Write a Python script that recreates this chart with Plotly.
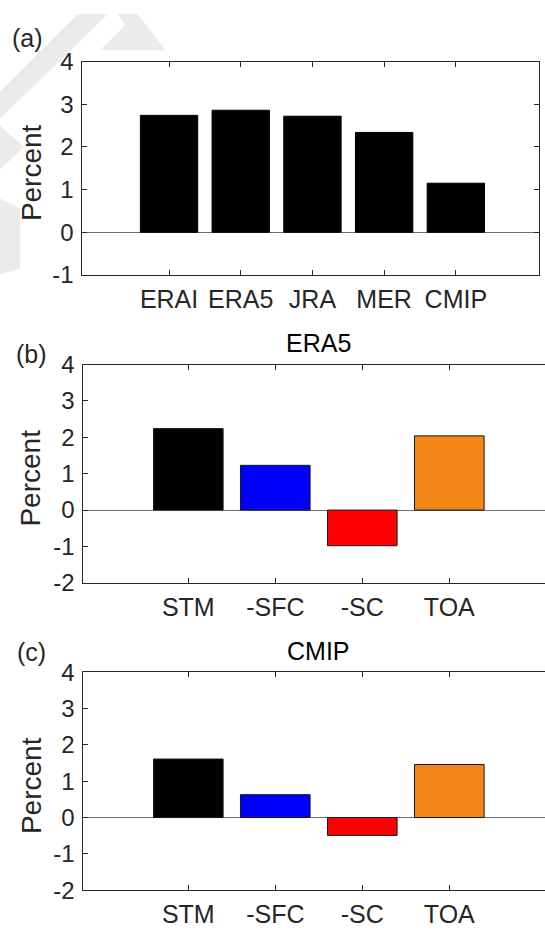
import plotly.graph_objects as go

W, H = 545, 936

# ---- data ----
cats_a = ["ERAI", "ERA5", "JRA", "MER", "CMIP"]
vals_a = [2.74, 2.86, 2.72, 2.34, 1.15]

cats_bc = ["STM", "-SFC", "-SC", "TOA"]
vals_b = [2.24, 1.23, -0.98, 2.04]   # ERA5
vals_c = [1.61, 0.63, -0.49, 1.46]   # CMIP
colors_bc = ["#000000", "#0000FF", "#FF0000", "#F28717"]

titles = ["", "ERA5", "CMIP"]
panel_labels = ["(a)", "(b)", "(c)"]
yticks_a = [-1, 0, 1, 2, 3, 4]
yticks_bc = [-2, -1, 0, 1, 2, 3, 4]

FONT = "Liberation Sans, Arial, sans-serif"
TXT = "#262626"


def px(x):
    return x / W


def py(y):
    return 1 - y / H


fig = go.Figure()

fig.add_trace(go.Bar(x=list(range(len(cats_a))), y=vals_a, width=0.8,
                     marker=dict(color="#000000", line=dict(color="#000000", width=1)),
                     xaxis="x", yaxis="y", showlegend=False))
fig.add_trace(go.Bar(x=list(range(len(cats_bc))), y=vals_b, width=0.8,
                     marker=dict(color=colors_bc, line=dict(color="#1a1a1a", width=1)),
                     xaxis="x2", yaxis="y2", showlegend=False))
fig.add_trace(go.Bar(x=list(range(len(cats_bc))), y=vals_c, width=0.8,
                     marker=dict(color=colors_bc, line=dict(color="#1a1a1a", width=1)),
                     xaxis="x3", yaxis="y3", showlegend=False))

# panel pixel boxes: (left, right, top, bottom)
boxes = [(82.3, 539.0, 49.0, 268.7), (83.3, 545.0, 361.0, 585.7), (83.3, 545.0, 677.7, 902.3)]
xranges = [[-1.21, 5.16], [-1.207, 4.1], [-1.207, 4.1]]
yranges = [[-1, 4], [-2, 4], [-2, 4]]
tickvals_x = [list(range(len(cats_a))), list(range(len(cats_bc))), list(range(len(cats_bc)))]
ticktext_x = [cats_a, cats_bc, cats_bc]
ytv = [yticks_a, yticks_bc, yticks_bc]

axcommon = dict(showline=True, linecolor=TXT, linewidth=1, ticks="inside", ticklen=5,
                tickcolor=TXT, tickwidth=1, showgrid=False, fixedrange=True)

for i in range(3):
    l, r, t, b = boxes[i]
    sx = "" if i == 0 else str(i + 1)
    fig.update_layout({
        "xaxis" + sx: dict(domain=[px(l), min(px(r), 1.0)], range=xranges[i],
                           anchor="y" + sx, tickmode="array", tickvals=tickvals_x[i],
                           ticktext=ticktext_x[i], mirror="ticks", zeroline=False,
                           tickfont=dict(family=FONT, size=25, color=TXT),
                           ticklabelstandoff=2, **axcommon),
        "yaxis" + sx: dict(domain=[py(b), py(t)], range=yranges[i], anchor="x" + sx,
                           tickmode="array", tickvals=ytv[i],
                           ticktext=[str(v) for v in ytv[i]],
                           mirror="ticks" if i == 0 else False,
                           zeroline=True, zerolinecolor="#6e6e6e", zerolinewidth=1.3,
                           tickfont=dict(family=FONT, size=24, color=TXT),
                           ticklabelstandoff=3, **axcommon),
    })

annotations = []
label_pos = [(27, 25), (31, 350), (31, 657)]
for i in range(3):
    l, r, t, b = boxes[i]
    annotations.append(dict(text=panel_labels[i], x=px(label_pos[i][0]), y=py(label_pos[i][1]),
                            xref="paper", yref="paper", showarrow=False,
                            xanchor="center", yanchor="middle",
                            font=dict(family=FONT, size=25, color=TXT)))
    annotations.append(dict(text="Percent", x=px(31), y=py((t + b) / 2 + 5),
                            xref="paper", yref="paper", showarrow=False, textangle=-90,
                            xanchor="center", yanchor="middle",
                            font=dict(family=FONT, size=28, color=TXT)))
    if titles[i]:
        annotations.append(dict(text=titles[i], x=px(318), y=py(t - 22),
                                xref="paper", yref="paper", showarrow=False,
                                xanchor="center", yanchor="middle",
                                font=dict(family=FONT, size=25, color="#000000")))

# faint watermark shapes (background)
WM = "#ebebeb"
wm_polys = [
    [(78, 0), (108, 0), (0, 108), (0, 80)],
    [(118, 0), (138, 0), (165, 37), (100, 37), (125, 12)],
    [(0, 115), (24, 137), (0, 160)],
    [(0, 190), (20, 200), (20, 262), (0, 268)],
]
shapes = []
for poly in wm_polys:
    path = "M " + " L ".join(f"{px(x)},{py(y)}" for x, y in poly) + " Z"
    shapes.append(dict(type="path", path=path, xref="paper", yref="paper",
                       fillcolor=WM, line=dict(width=0), layer="below"))

fig.update_layout(width=W, height=H, margin=dict(l=0, r=0, t=0, b=0),
                  paper_bgcolor="white", plot_bgcolor="rgba(0,0,0,0)",
                  annotations=annotations, shapes=shapes, bargap=0.2,
                  font=dict(family=FONT, color=TXT))

fig.write_html("out.html", config={"displayModeBar": False},
               post_script="document.body.style.margin='0px';"
                           "document.body.style.overflow='hidden';")
